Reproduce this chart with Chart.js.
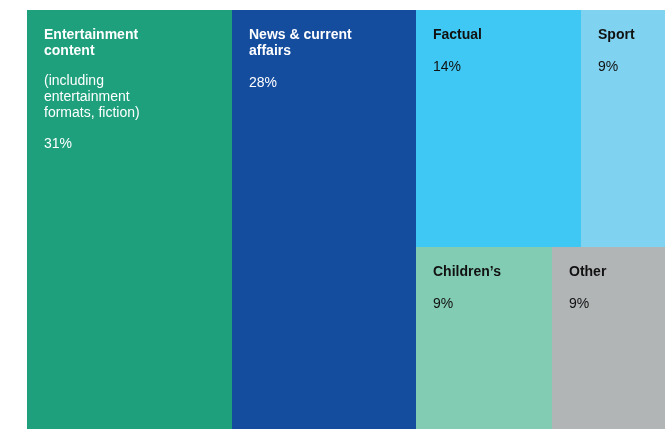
<!DOCTYPE html>
<html>
<head>
<meta charset="utf-8">
<script src="https://cdn.jsdelivr.net/npm/chart.js@4"></script>
<style>
  html, body { margin: 0; padding: 0; background: #fff; overflow: hidden; }
  #wrap { width: 700px; height: 440px; }
</style>
</head>
<body>
<div id="wrap"><canvas id="treemap"></canvas></div>
<script>
const categories = ['Entertainment content', 'News & current affairs', 'Factual', 'Sport', 'Children’s', 'Other'];
const shares = [31, 28, 14, 9, 9, 9];
const titleLines = [['Entertainment', 'content'], ['News & current', 'affairs'], ['Factual'], ['Sport'], ['Children’s'], ['Other']];
const noteLines = [['(including', 'entertainment', 'formats, fiction)'], [], [], [], [], []];
const colours = ['#1ea07d', '#144c9e', '#40c8f4', '#80d3f0', '#83ccb4', '#b2b5b6'];
const textColours = ['#ffffff', '#ffffff', '#111111', '#111111', '#111111', '#111111'];
// columns -> rows -> category indexes
const columns = [[[0]], [[1]], [[2, 3], [4, 5]]];

const total = shares.reduce((a, b) => a + b, 0);
const cells = [];
let x0 = 0;
columns.forEach(col => {
    const colSum = col.flat().reduce((a, i) => a + shares[i], 0);
    const w = colSum / total * 100;
    let y0 = 0;
    col.forEach(row => {
        const rowSum = row.reduce((a, i) => a + shares[i], 0);
        const h = rowSum / colSum * 100;
        let xx = x0;
        row.forEach(i => {
            const cw = shares[i] / rowSum * w;
            cells.push({ i: i, x: xx, y: y0, w: cw, h: h });
            xx += cw;
        });
        y0 += h;
    });
    x0 += w;
});

const treemapPlugin = {
    id: 'treemap',
    beforeDatasetsDraw(chart) {
        const { ctx, scales: { x, y } } = chart;
        ctx.save();
        cells.forEach(c => {
            const left = Math.round(x.getPixelForValue(c.x));
            const right = Math.round(x.getPixelForValue(c.x + c.w));
            const top = Math.round(y.getPixelForValue(c.y));
            const bottom = Math.round(y.getPixelForValue(c.y + c.h));
            ctx.fillStyle = colours[c.i];
            ctx.fillRect(left, top, right - left, bottom - top);

            const tx = left + 17;
            let ty = top + 25;
            ctx.fillStyle = textColours[c.i];
            ctx.textBaseline = 'middle';
            ctx.textAlign = 'left';
            ctx.font = 'bold 14px "Liberation Sans", Arial, sans-serif';
            titleLines[c.i].forEach((line, k) => {
                if (k > 0) ty += 16;
                ctx.fillText(line, tx, ty);
            });
            ctx.font = '14px "Liberation Sans", Arial, sans-serif';
            if (noteLines[c.i].length) {
                ty += 30;
                noteLines[c.i].forEach((line, k) => {
                    if (k > 0) ty += 16;
                    ctx.fillText(line, tx, ty);
                });
                ty += 31;
            } else {
                ty += 32;
            }
            ctx.fillText(shares[c.i] + '%', tx, ty);
        });
        ctx.restore();
    }
};

new Chart(document.getElementById('treemap'), {
    type: 'scatter',
    plugins: [treemapPlugin],
    data: {
        labels: categories,
        datasets: [{
            data: cells.map(c => ({ x: c.x + c.w / 2, y: c.y + c.h / 2 })),
            pointRadius: 0
        }]
    },
    options: {
        responsive: true,
        maintainAspectRatio: false,
        animation: false,
        layout: {
            padding: { left: 27, top: 10, right: 13, bottom: 8 }
        },
        scales: {
            x: { type: 'linear', min: 0, max: 100, display: false },
            y: { type: 'linear', min: 0, max: 100, reverse: true, display: false }
        },
        plugins: {
            legend: { display: false },
            tooltip: { enabled: false }
        }
    }
});
</script>
</body>
</html>
